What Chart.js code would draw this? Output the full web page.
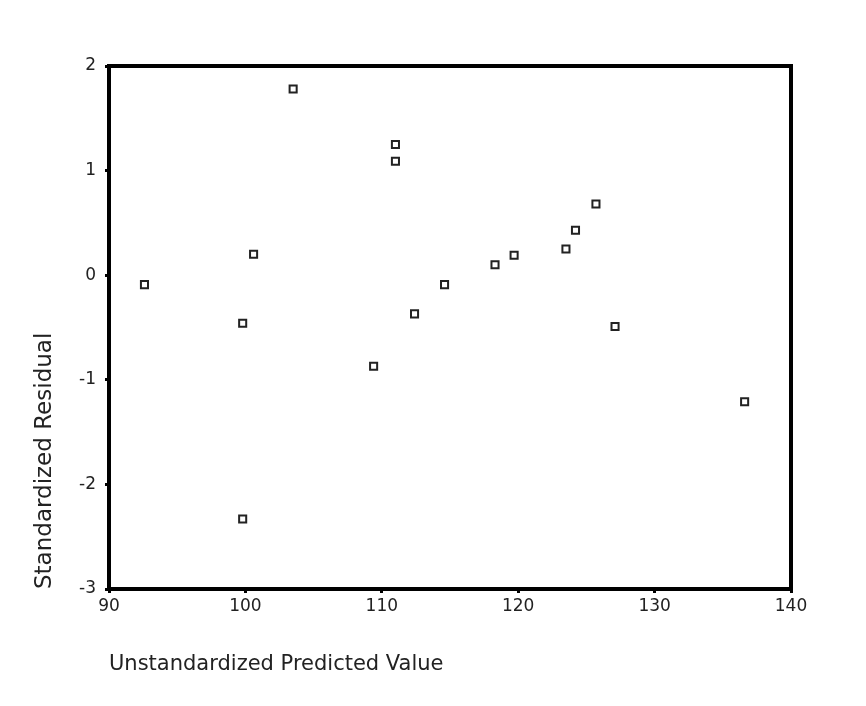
<!DOCTYPE html>
<html>
<head>
<meta charset="utf-8">
<title>Residual plot</title>
<script src="https://cdn.jsdelivr.net/npm/chart.js@4"></script>
<style>
  body { margin: 0; background: #fff; }
  canvas { display: block; }
</style>
</head>
<body>
<canvas id="residChart" width="866" height="706"></canvas>
<script>
// predicted values (x) and standardized residuals (y)
const predicted = [92.6, 99.8, 99.8, 100.6, 103.5, 111.0, 111.0, 109.4, 112.4,
                   114.6, 118.3, 119.7, 123.5, 124.2, 125.7, 127.1, 136.6];
const residuals = [-0.09, -0.46, -2.33, 0.20, 1.78, 1.25, 1.09, -0.87, -0.37,
                   -0.09, 0.10, 0.19, 0.25, 0.43, 0.68, -0.49, -1.21];

const xTicks = [90, 100, 110, 120, 130, 140];
const yTicks = [-3, -2, -1, 0, 1, 2];

const xTitle = "Unstandardized Predicted Value";
const yTitle = "Standardized Residual";

const points = predicted.map((x, i) => ({ x: x, y: residuals[i] }));

// box round the plot area
const frame = {
  id: "frame",
  afterDraw(chart) {
    const a = chart.chartArea;
    const ctx = chart.ctx;
    ctx.save();
    ctx.strokeStyle = "#000";
    ctx.lineWidth = 4;
    ctx.strokeRect(a.left, a.top, a.right - a.left, a.bottom - a.top);
    ctx.restore();
  }
};

const ctx = document.getElementById("residChart").getContext("2d");

new Chart(ctx, {
  type: "scatter",
  data: {
    datasets: [{
      data: points,
      pointStyle: "rect",
      pointRadius: 5,
      pointHoverRadius: 5,
      borderWidth: 2,
      borderColor: "#222",
      backgroundColor: "#fff"
    }]
  },
  options: {
    responsive: false,
    animation: false,
    layout: { padding: { left: 0, top: 66, right: 75, bottom: 0 } },
    plugins: { legend: { display: false }, tooltip: { enabled: false } },
    scales: {
      x: {
        type: "linear",
        min: xTicks[0],
        max: xTicks[xTicks.length - 1],
        afterBuildTicks: s => { s.ticks = xTicks.map(v => ({ value: v })); },
        afterFit: s => { s.height = 117; },
        grid: { drawOnChartArea: false, drawTicks: true, tickLength: 4, lineWidth: 3, color: "#000" },
        border: { display: false },
        ticks: {
          padding: 3,
          color: "#222",
          maxRotation: 0,
          font: { family: "DejaVu Sans", size: 17 }
        },
        title: {
          display: true,
          text: xTitle,
          align: "start",
          color: "#222",
          padding: { top: 0, bottom: 29 },
          font: { family: "DejaVu Sans", size: 21 }
        }
      },
      y: {
        type: "linear",
        min: yTicks[0],
        max: yTicks[yTicks.length - 1],
        afterBuildTicks: s => { s.ticks = yTicks.map(v => ({ value: v })); },
        afterFit: s => { s.width = 109; },
        grid: { drawOnChartArea: false, drawTicks: true, tickLength: 4, lineWidth: 3, color: "#000" },
        border: { display: false },
        ticks: {
          padding: 9,
          color: "#222",
          font: { family: "DejaVu Sans", size: 17 }
        },
        title: {
          display: true,
          text: yTitle,
          align: "start",
          color: "#222",
          padding: { top: 31, bottom: 0 },
          font: { family: "DejaVu Sans", size: 23 }
        }
      }
    }
  },
  plugins: [frame]
});
</script>
</body>
</html>
